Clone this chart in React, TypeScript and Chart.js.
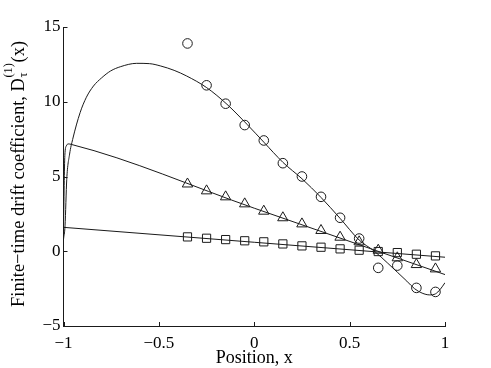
import React, { useEffect, useRef } from "react";
import Chart from "chart.js/auto";

// Sample positions of the markers
const positions = [-0.35, -0.25, -0.15, -0.05, 0.05, 0.15, 0.25, 0.35, 0.45, 0.55, 0.65, 0.75, 0.85, 0.95];
// Marker series (circles, triangles, squares)
const circleValues = [13.9, 11.1, 9.87, 8.44, 7.41, 5.89, 5.0, 3.64, 2.24, 0.85, -1.11, -0.96, -2.45, -2.72];
const triangleValues = [4.5, 4.04, 3.64, 3.17, 2.68, 2.24, 1.83, 1.39, 0.94, 0.63, 0.07, -0.44, -0.89, -1.18];
const squareValues = [0.96, 0.87, 0.78, 0.7, 0.63, 0.49, 0.36, 0.27, 0.16, 0.07, -0.02, -0.09, -0.2, -0.31];

// Fitted curves
const fit1X = [-1, -0.992, -0.983, -0.968, -0.952, -0.913, -0.88, -0.843, -0.8, -0.753, -0.7, -0.616, -0.55, -0.49, -0.42, -0.354, -0.249, -0.143, -0.038, 0.05, 0.15, 0.25, 0.35, 0.45, 0.55, 0.63, 0.7, 0.75, 0.8, 0.84, 0.88, 0.92, 0.95, 0.975, 1.0];
const fit1Y = [0.8, 1.7, 4.8, 6.5, 7.48, 9.27, 10.3, 11.05, 11.6, 12.06, 12.35, 12.57, 12.55, 12.39, 12.1, 11.72, 10.94, 9.83, 8.49, 7.3, 5.95, 4.85, 3.6, 2.2, 0.75, 0.0, -0.8, -1.4, -2.0, -2.5, -2.8, -2.92, -2.85, -2.55, -2.1];
const fit2X = [-1, -0.993, -0.985, -0.975, -0.96, 0.0, 1.0];
const fit2Y = [1.6, 6.4, 7.05, 7.18, 7.15, 2.88, -1.56];
const fit3X = [-1, 0, 1];
const fit3Y = [1.6, 0.6, -0.4];

// Axis tick labels
const xTicks = [-1, -0.5, 0, 0.5, 1];
const yTicks = [-5, 0, 5, 10, 15];

const xTitle = "Position, x";
const yTitleMain = "Finite\u2212time drift coefficient, D";
const yTitleSup = "(1)";
const yTitleSub = "\u03c4";
const yTitleTail = "(x)";

const fmt = (v: number) => (v < 0 ? "\u2212" + String(Math.abs(v)) : String(v));
const pts = (xs: number[], ys: number[]) => xs.map((x, i) => ({ x, y: ys[i] }));

const INK = "#1a1a1a";
const FONT = "Liberation Serif";

const decorPlugin = {
  id: "decor",
  afterDraw(chart: any) {
    const { ctx, chartArea, scales } = chart;
    const xs = scales.x;
    const ys = scales.y;
    ctx.save();
    ctx.strokeStyle = INK;
    ctx.lineWidth = 1;
    ctx.beginPath();
    for (const t of xTicks) {
      const px = Math.round(xs.getPixelForValue(t)) + 0.5;
      ctx.moveTo(px, chartArea.bottom);
      ctx.lineTo(px, chartArea.bottom - 4);
    }
    for (const t of yTicks) {
      const py = Math.round(ys.getPixelForValue(t)) + 0.5;
      ctx.moveTo(chartArea.left, py);
      ctx.lineTo(chartArea.left + 4, py);
    }
    ctx.stroke();

    ctx.fillStyle = "#000";
    // x title
    ctx.font = `18px "${FONT}"`;
    ctx.textAlign = "center";
    ctx.textBaseline = "alphabetic";
    ctx.fillText(xTitle, (chartArea.left + chartArea.right) / 2, 363);

    // y title rotated, with sub/superscript
    ctx.translate(24, 174);
    ctx.rotate(-Math.PI / 2);
    ctx.textAlign = "left";
    ctx.font = `18.5px "${FONT}"`;
    const wMain = ctx.measureText(yTitleMain).width;
    const wTail = ctx.measureText(yTitleTail).width;
    ctx.font = `12.5px "${FONT}"`;
    const wSup = ctx.measureText(yTitleSup).width;
    const wSub = ctx.measureText(yTitleSub).width;
    const wScript = Math.max(wSup, wSub) + 1;
    const total = wMain + wScript + wTail;
    let x0 = -total / 2;
    ctx.font = `18.5px "${FONT}"`;
    ctx.fillText(yTitleMain, x0, 0);
    x0 += wMain;
    ctx.font = `12.5px "${FONT}"`;
    ctx.fillText(yTitleSup, x0 + 0.5, -12);
    ctx.fillText(yTitleSub, x0 + 0.5, 3);
    x0 += wScript;
    ctx.font = `18.5px "${FONT}"`;
    ctx.fillText(yTitleTail, x0, 0);
    ctx.restore();
  },
};

export default function App() {
  const ref = useRef<HTMLCanvasElement | null>(null);
  useEffect(() => {
    if (!ref.current) return;
    const lineDs = (data: any[]) => ({
      type: "scatter" as const,
      data,
      showLine: true,
      borderColor: INK,
      borderWidth: 1,
      pointRadius: 0,
      cubicInterpolationMode: "monotone" as const,
      fill: false,
    });
    const markDs = (data: any[], style: string, r: number) => ({
      type: "scatter" as const,
      data,
      showLine: false,
      pointStyle: style,
      pointRadius: r,
      pointBorderColor: INK,
      pointBackgroundColor: "rgba(0,0,0,0)",
      pointBorderWidth: 1,
    });
    const chart = new Chart(ref.current, {
      type: "scatter",
      data: {
        datasets: [
          lineDs(pts(fit1X, fit1Y)),
          lineDs(pts(fit2X, fit2Y)),
          lineDs(pts(fit3X, fit3Y)),
          markDs(pts(positions, circleValues), "circle", 4.8),
          markDs(pts(positions, triangleValues), "triangle", 6),
          markDs(pts(positions, squareValues), "rect", 5.8),
        ] as any,
      },
      options: {
        animation: false,
        responsive: true,
        maintainAspectRatio: false,
        devicePixelRatio: 1,
        layout: { padding: { left: 0, top: 27, right: 46, bottom: 0 } },
        plugins: { legend: { display: false }, tooltip: { enabled: false }, title: { display: false } },
        scales: {
          x: {
            type: "linear",
            min: -1,
            max: 1,
            afterFit: (s: any) => {
              s.height = 42;
            },
            afterBuildTicks: (s: any) => {
              s.ticks = xTicks.map((v) => ({ value: v }));
            },
            grid: { display: false, drawTicks: false },
            border: { display: true, color: INK, width: 1 },
            ticks: {
              color: "#000",
              padding: 7,
              maxRotation: 0,
              autoSkip: false,
              font: { family: FONT, size: 17 },
              callback: (v: any) => fmt(Number(v)),
            },
          },
          y: {
            type: "linear",
            min: -5,
            max: 15,
            afterFit: (s: any) => {
              s.width = 63.5;
            },
            afterBuildTicks: (s: any) => {
              s.ticks = yTicks.map((v) => ({ value: v }));
            },
            grid: { display: false, drawTicks: false },
            border: { display: true, color: INK, width: 1 },
            ticks: {
              color: "#000",
              padding: 3,
              autoSkip: false,
              font: { family: FONT, size: 17 },
              callback: (v: any) => fmt(Number(v)),
            },
          },
        },
      } as any,
      plugins: [decorPlugin],
    });
    return () => chart.destroy();
  }, []);
  return (
    <div style={{ position: "absolute", left: 0, top: 0, width: 491, height: 368, background: "#fff" }}>
      <canvas ref={ref} />
    </div>
  );
}
